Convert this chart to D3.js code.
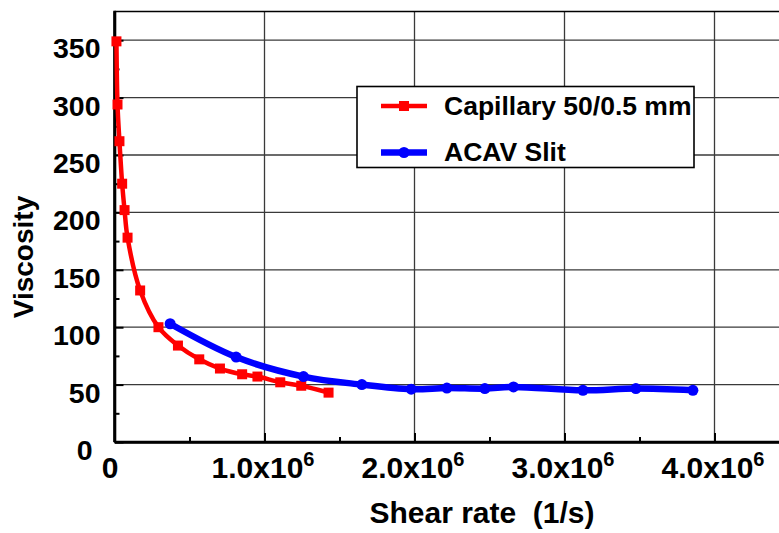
<!DOCTYPE html>
<html>
<head>
<meta charset="utf-8">
<script src="https://cdn.jsdelivr.net/npm/d3@7"></script>
<style>
  html, body { margin: 0; padding: 0; background: #fff; }
  svg { display: block; }
  text { font-family: "Liberation Sans", Arial, sans-serif; font-weight: bold; fill: #000; }
</style>
</head>
<body>
<svg id="chart" width="779" height="533"></svg>
<script>
// Capillary rheometer (50/0.5 mm die)
const capShear = [0.013e6, 0.020e6, 0.033e6, 0.051e6, 0.067e6, 0.087e6, 0.171e6, 0.293e6,
                  0.423e6, 0.565e6, 0.703e6, 0.851e6, 0.953e6, 1.105e6, 1.245e6, 1.427e6];
const capVisc  = [349, 294, 262, 225, 202, 178, 132, 100, 84, 72, 64, 59, 57, 52, 49, 43];

// ACAV slit die
const slitShear = [0.371e6, 0.811e6, 1.26e6, 1.649e6, 1.978e6, 2.216e6, 2.469e6, 2.66e6,
                   3.123e6, 3.476e6, 3.856e6];
const slitVisc  = [103, 74, 57, 50, 46, 47, 46.5, 48, 45, 46.5, 45];

const xTicks = [0, 1e6, 2e6, 3e6, 4e6];
const xTickLabels = ["0", "1.0x10", "2.0x10", "3.0x10", "4.0x10"];
const xMinor = [0.5e6, 1.5e6, 2.5e6, 3.5e6, 4.5e6];
const yTicks = [0, 50, 100, 150, 200, 250, 300, 350];
const yMinor = [25, 75, 125, 175, 225, 275, 325];

const seriesNames = ["Capillary 50/0.5 mm", "ACAV Slit"];

const svg = d3.select("#chart");
const plotLeft = 114.5, plotBottom = 442, plotTop = 11.5;

const x = d3.scaleLinear().domain([0, 4.5e6]).range([plotLeft, plotLeft + 675]);
const y = d3.scaleLinear().domain([0, 375]).range([plotBottom, plotTop]);

// grid
const grid = svg.append("g").attr("stroke", "#3a3a3a").attr("stroke-width", 1.3);
grid.selectAll("line.gx").data(xTicks.filter(d => d > 0)).join("line")
  .attr("x1", d => x(d)).attr("x2", d => x(d)).attr("y1", plotTop).attr("y2", plotBottom);
grid.selectAll("line.gy").data(yTicks.filter(d => d > 0)).join("line")
  .attr("x1", plotLeft).attr("x2", 779).attr("y1", d => y(d)).attr("y2", d => y(d));

// frame top edge
svg.append("line").attr("x1", plotLeft).attr("x2", 779).attr("y1", plotTop).attr("y2", plotTop)
  .attr("stroke", "#000").attr("stroke-width", 1.6);

// axes (inward ticks)
const xAxis = svg.append("g").attr("transform", `translate(0,${plotBottom})`)
  .call(d3.axisBottom(x).tickValues(xTicks).tickSize(-9).tickSizeOuter(0).tickFormat((d, i) => xTickLabels[i]));
const xAxisMinor = svg.append("g").attr("transform", `translate(0,${plotBottom})`)
  .call(d3.axisBottom(x).tickValues(xMinor).tickSize(-5).tickSizeOuter(0).tickFormat(""));
const yAxis = svg.append("g").attr("transform", `translate(${plotLeft},0)`)
  .call(d3.axisLeft(y).tickValues(yTicks).tickSize(-9).tickSizeOuter(0));
const yAxisMinor = svg.append("g").attr("transform", `translate(${plotLeft},0)`)
  .call(d3.axisLeft(y).tickValues(yMinor).tickSize(-5).tickSizeOuter(0).tickFormat(""));

[xAxis, xAxisMinor, yAxis, yAxisMinor].forEach(g => {
  g.select(".domain").attr("stroke", "#000").attr("stroke-width", 2.6);
  g.selectAll(".tick line").attr("stroke", "#000").attr("stroke-width", 2);
});
xAxis.select(".domain").attr("d", `M${plotLeft},0H779`);
yAxis.select(".domain").attr("d", `M0,${plotTop - 0.8}V${plotBottom}`);

xAxis.selectAll(".tick text")
  .attr("font-size", 30).attr("font-family", null).attr("dy", null)
  .attr("y", 36).attr("text-anchor", "middle")
  .each(function (d) {
    const t = d3.select(this);
    if (d === 0) { t.attr("dx", -5); return; }
    t.attr("dx", -2);
    t.append("tspan").attr("font-size", 20).attr("dy", -12.5).text("6");
  });

yAxis.selectAll(".tick text")
  .attr("font-size", 28.5).attr("font-family", null).attr("dy", null)
  .attr("y", 17.5).attr("text-anchor", "end")
  .attr("x", d => d === 0 ? -22 : -14);

// axis titles
svg.append("text").attr("font-size", 28).attr("text-anchor", "middle")
  .attr("transform", "translate(33,257) rotate(-90)").text("Viscosity");
svg.append("text").attr("font-size", 30).attr("text-anchor", "middle")
  .attr("x", 482).attr("y", 523).attr("xml:space", "preserve").text("Shear rate  (1/s)");

// series
const line = d3.line().curve(d3.curveCatmullRom.alpha(0.5));
const capPts = capShear.map((v, i) => [x(v), y(capVisc[i])]);
const slitPts = slitShear.map((v, i) => [x(v), y(slitVisc[i])]);

svg.append("path").attr("d", line(slitPts)).attr("fill", "none")
  .attr("stroke", "#0000ff").attr("stroke-width", 6.5).attr("stroke-linejoin", "round");
svg.append("path").attr("d", line(capPts)).attr("fill", "none")
  .attr("stroke", "#ff0000").attr("stroke-width", 4.5).attr("stroke-linejoin", "round");

svg.selectAll("rect.cap").data(capPts).join("rect").attr("class", "cap")
  .attr("x", d => d[0] - 5).attr("y", d => d[1] - 5).attr("width", 10).attr("height", 10)
  .attr("fill", "#ff0000");
svg.selectAll("circle.slit").data(slitPts).join("circle").attr("class", "slit")
  .attr("cx", d => d[0]).attr("cy", d => d[1]).attr("r", 5.5).attr("fill", "#0000ff");

// legend
const lg = svg.append("g");
lg.append("rect").attr("x", 357).attr("y", 86.5).attr("width", 337).attr("height", 81)
  .attr("fill", "#fff").attr("stroke", "#000").attr("stroke-width", 1.6);
const rows = [
  { name: seriesNames[0], color: "#ff0000", shape: "square", cy: 106, base: 114.5, w: 4.5 },
  { name: seriesNames[1], color: "#0000ff", shape: "circle", cy: 152.5, base: 161, w: 6.5 }
];
rows.forEach(r => {
  lg.append("line").attr("x1", 381).attr("x2", 427).attr("y1", r.cy).attr("y2", r.cy)
    .attr("stroke", r.color).attr("stroke-width", r.w);
  if (r.shape === "square") {
    lg.append("rect").attr("x", 399).attr("y", r.cy - 5).attr("width", 10).attr("height", 10).attr("fill", r.color);
  } else {
    lg.append("circle").attr("cx", 404).attr("cy", r.cy).attr("r", 5.5).attr("fill", r.color);
  }
  lg.append("text").attr("x", 444).attr("y", r.base).attr("font-size", 26.5).text(r.name);
});
</script>
</body>
</html>
